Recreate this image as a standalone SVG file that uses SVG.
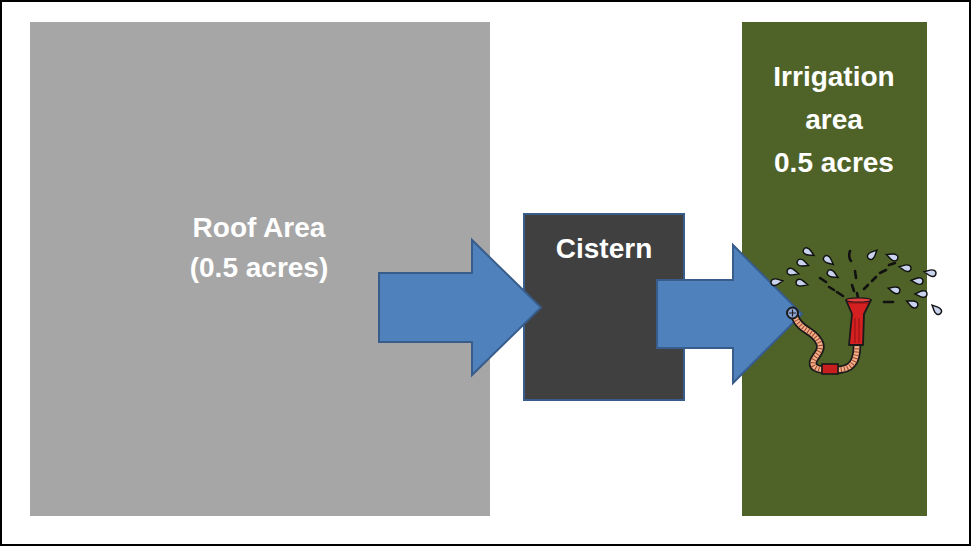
<svg xmlns="http://www.w3.org/2000/svg" width="972" height="547" viewBox="0 0 972 547">
<defs>
<style>
.lbl{font-family:"Liberation Sans",Arial,sans-serif;font-weight:bold;font-size:28px;fill:#FFFFFF;text-anchor:middle}
.arrow{fill:#4F81BD;stroke:#385D8A;stroke-width:2;stroke-linejoin:miter}
.drop{fill:#C9D3EE;stroke:#111111;stroke-width:1.4}
.dash{stroke:#111111;stroke-width:2.6;stroke-linecap:round;fill:none}
</style>
<path id="tear" d="M-5,0 C-5,-3.6 -1,-3.8 1.5,-2.6 L7,0 L1.5,2.6 C-1,3.8 -5,3.6 -5,0 Z"/>
</defs>
<rect x="0" y="0" width="972" height="547" fill="#FFFFFF"/>
<rect x="1" y="1" width="969" height="544" fill="none" stroke="#000000" stroke-width="2"/>

<g id="roof">
<rect x="30" y="22" width="460" height="494" fill="#A6A6A6"/>
<text class="lbl" x="259" y="237">Roof Area</text>
<text class="lbl" x="259" y="277">(0.5 acres)</text>
</g>

<g id="irrigation">
<rect x="742" y="22" width="185" height="494" fill="#4F6228"/>
<text class="lbl" x="834" y="86">Irrigation</text>
<text class="lbl" x="834" y="129">area</text>
<text class="lbl" x="834" y="172">0.5 acres</text>
</g>

<g id="cistern">
<rect x="524" y="214" width="160" height="186" fill="#404040" stroke="#385D8A" stroke-width="2"/>
<text class="lbl" x="604" y="258">Cistern</text>
</g>

<g id="connectors">
<polygon class="arrow" points="379,273 472,273 472,240 541,307.5 472,375 472,342 379,342"/>
<polygon class="arrow" points="657,280 733,280 733,245 802,314 733,383 733,348 657,348"/>
</g>

<g id="sprinkler">
<g class="drop">
<use href="#tear" transform="translate(808,252) rotate(30)"/>
<use href="#tear" transform="translate(828,260) rotate(40)"/>
<use href="#tear" transform="translate(802,263) rotate(20)"/>
<use href="#tear" transform="translate(792,272) rotate(15)"/>
<use href="#tear" transform="translate(776,282) rotate(-10)"/>
<use href="#tear" transform="translate(801,283) rotate(15)"/>
<use href="#tear" transform="translate(832,274) rotate(30)"/>
<use href="#tear" transform="translate(872,255) rotate(-45)"/>
<use href="#tear" transform="translate(893,257) rotate(200)"/>
<use href="#tear" transform="translate(906,268) rotate(190)"/>
<use href="#tear" transform="translate(931,273) rotate(190)"/>
<use href="#tear" transform="translate(918,281) rotate(185)"/>
<use href="#tear" transform="translate(895,290) rotate(195)"/>
<use href="#tear" transform="translate(922,294) rotate(180)"/>
<use href="#tear" transform="translate(913,304) rotate(205)"/>
<use href="#tear" transform="translate(937,310) rotate(225)"/>
</g>
<path class="dash" d="M850,251 Q848,257 851,261"/>
<path class="dash" d="M820,278 L826,282"/>
<path class="dash" d="M837,292 L843,296"/>
<path class="dash" d="M829,287 L834,290"/>
<path class="dash" d="M855,271 L856,278"/>
<path class="dash" d="M852,285 L854,291"/>
<path class="dash" d="M872,281 L876,277"/>
<path class="dash" d="M880,273 L886,270"/>
<path class="dash" d="M889,265 L895,263"/>
<path class="dash" d="M864,289 L868,285"/>
<path class="dash" d="M884,302 L893,302"/>
<path class="dash" d="M857,293 L858,298"/>
<path d="M795,317 C800,330 812,330 818,340 C825,350 815,355 813,362 C812,370 822,370 835,370 C852,370 857,362 857,345" fill="none" stroke="#1a1a1a" stroke-width="8.5" stroke-linecap="round"/>
<path d="M795,317 C800,330 812,330 818,340 C825,350 815,355 813,362 C812,370 822,370 835,370 C852,370 857,362 857,345" fill="none" stroke="#F0B08A" stroke-width="5" stroke-linecap="round"/>
<path d="M795,317 C800,330 812,330 818,340 C825,350 815,355 813,362 C812,370 822,370 835,370 C852,370 857,362 857,345" fill="none" stroke="#A0402A" stroke-width="5" stroke-dasharray="1 2.2"/>
<rect x="822" y="364" width="16" height="10" fill="#C81E1E" stroke="#1a1a1a" stroke-width="1.6"/>
<circle cx="792.5" cy="313" r="5.5" fill="#8FA8D8" stroke="#1a1a1a" stroke-width="2"/>
<path d="M789,313 H796 M792.5,309.5 V316.5" stroke="#1a1a1a" stroke-width="1.2"/>
<path d="M846,300 L871,300 L864,314 L863,345 L849,345 L852,314 Z" fill="#D42020" stroke="#1a1a1a" stroke-width="1.8" stroke-linejoin="round"/>
<ellipse cx="858.5" cy="300" rx="12.5" ry="2.2" fill="#E84040" stroke="#1a1a1a" stroke-width="1.2"/>
<path d="M855,318 V343 M859,318 V343 M848,303 L868,303" stroke="#8A1010" stroke-width="0.9"/>
</g>
</svg>
